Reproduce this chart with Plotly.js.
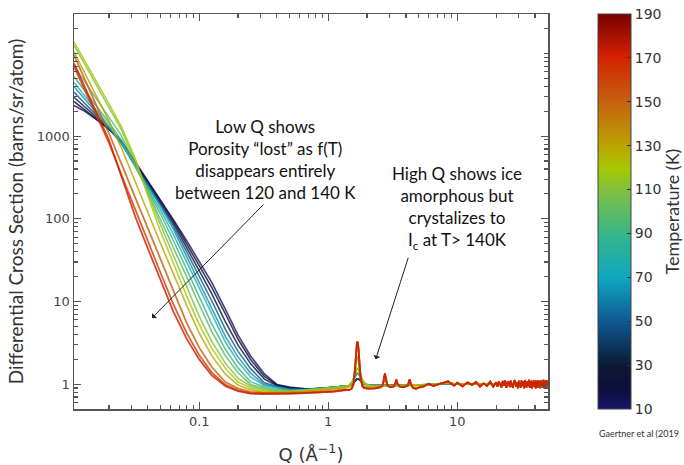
<!DOCTYPE html>
<html>
<head>
<meta charset="utf-8">
<script src="https://cdn.plot.ly/plotly-3.0.1.min.js"></script>
<style>html,body{margin:0;padding:0;background:#fff;}#chart{width:684px;height:465px;}</style>
</head>
<body>
<div id="chart"></div>
<script>
// ---------------- DATA ----------------
// Temperatures of the measured curves (K)
const temps = [10, 20, 30, 50, 65, 80, 90, 100, 110, 120, 130, 150, 160, 172];

// Low/mid-Q grid (Å^-1)
const qLo = [0.0107, 0.013, 0.016, 0.02, 0.025, 0.032, 0.04, 0.05, 0.063, 0.08, 0.1, 0.125, 0.16, 0.2, 0.25, 0.32, 0.4, 0.5, 0.65, 0.85, 1.1, 1.35];

// Cross section on qLo for each temperature (barns/sr/atom)
const sLo_T10  = [2344, 1995, 1585, 1202, 871, 490, 285, 168, 97.7, 54.3, 30.9, 17.0, 7.94, 3.92, 2.19, 1.33, 0.99, 0.923, 0.881, 0.871, 0.891, 0.923];
const sLo_T20  = [2630, 2065, 1600, 1216, 857, 478, 281, 165, 94.6, 49.5, 27.0, 14.8, 7.00, 3.49, 1.99, 1.24, 0.977, 0.912, 0.865, 0.881, 0.912, 0.955];
const sLo_T30  = [2951, 2244, 1679, 1227, 832, 460, 269, 157, 88.3, 44.6, 23.5, 12.4, 5.64, 2.96, 1.77, 1.15, 0.957, 0.891, 0.855, 0.881, 0.912, 0.955];
const sLo_T50  = [3388, 2477, 1778, 1242, 807, 443, 257, 149, 81.7, 39.5, 20.1, 10.2, 4.56, 2.49, 1.54, 1.04, 0.933, 0.877, 0.857, 0.881, 0.912, 0.955];
const sLo_T65  = [3981, 2793, 1919, 1268, 804, 434, 248, 142, 74.8, 34.6, 16.8, 8.05, 3.73, 2.12, 1.36, 0.988, 0.912, 0.853, 0.851, 0.877, 0.908, 0.951];
const sLo_T80  = [4467, 3062, 2047, 1330, 816, 424, 233, 129, 64.6, 29.8, 14.5, 6.82, 3.21, 1.86, 1.22, 0.964, 0.893, 0.841, 0.855, 0.881, 0.912, 0.955];
const sLo_T90  = [5248, 3516, 2296, 1452, 885, 429, 222, 115, 54.6, 24.5, 11.7, 5.37, 2.61, 1.56, 1.07, 0.923, 0.859, 0.832, 0.847, 0.875, 0.906, 0.948];
const sLo_T100 = [7079, 4519, 2812, 1687, 1009, 447, 212, 99.3, 45.6, 19.95, 9.18, 4.31, 2.19, 1.37, 0.991, 0.887, 0.832, 0.822, 0.841, 0.871, 0.902, 0.944];
const sLo_T110 = [12590, 7311, 4111, 2208, 1189, 485, 202, 85.1, 36.2, 14.9, 6.61, 3.28, 1.77, 1.17, 0.946, 0.855, 0.813, 0.818, 0.838, 0.867, 0.895, 0.938];
const sLo_T120 = [13800, 8128, 4634, 2450, 1290, 530, 189, 70.8, 29.2, 11.6, 5.25, 2.72, 1.54, 1.06, 0.906, 0.828, 0.804, 0.813, 0.832, 0.861, 0.891, 0.933];
const sLo_T130 = [10470, 5728, 3027, 1521, 714, 277, 117, 50.9, 21.7, 8.93, 4.14, 2.21, 1.31, 0.972, 0.857, 0.794, 0.794, 0.798, 0.813, 0.841, 0.871, 0.912];
const sLo_T150 = [9550, 4827, 2344, 1075, 459, 178, 75.4, 31.9, 13.2, 5.46, 2.76, 1.61, 1.05, 0.887, 0.807, 0.776, 0.776, 0.780, 0.794, 0.813, 0.832, 0.871];
const sLo_T160 = [6918, 3594, 1795, 824, 337, 126, 52.8, 22.4, 9.26, 4.13, 2.24, 1.39, 0.978, 0.841, 0.780, 0.767, 0.767, 0.767, 0.776, 0.794, 0.813, 0.851];
const sLo_T172 = [7586, 3917, 1950, 891, 323, 105, 43.6, 18.2, 7.54, 3.52, 1.99, 1.28, 0.944, 0.820, 0.767, 0.759, 0.759, 0.767, 0.776, 0.794, 0.813, 0.851];

// High-Q part, amorphous ice (broad peak near 1.7 Å^-1)
const qHiA = [1.45, 1.55, 1.62, 1.67, 1.72, 1.8, 1.9, 2.05, 2.3, 2.6, 3.0, 3.5, 4.0, 4.6, 5.3, 6.2, 7.2, 8.3, 10, 13, 17, 22, 30, 40, 50];
const sHiA_cold = [0.95, 1.02, 1.10, 1.15, 1.15, 1.08, 1.01, 0.97, 0.96, 0.96, 0.96, 0.96, 0.97, 0.97, 0.98, 0.99, 1.0, 1.02, 1.0, 1.0, 1.0, 1.0, 1.0, 1.0, 1.0];
const sHiA_mid  = [0.96, 1.08, 1.25, 1.35, 1.32, 1.15, 1.03, 0.97, 0.95, 0.95, 0.95, 0.96, 0.97, 0.97, 0.98, 0.99, 1.0, 1.02, 1.0, 1.0, 1.0, 1.0, 1.0, 1.0, 1.0];
const sHiA_warm = [0.95, 1.10, 1.40, 1.55, 1.48, 1.20, 1.03, 0.96, 0.94, 0.94, 0.95, 0.96, 0.96, 0.97, 0.98, 0.99, 1.0, 1.03, 1.0, 1.0, 1.0, 1.0, 1.0, 1.0, 1.0];

// High-Q part, partly crystallised (130 K)
const qHiP = [1.45, 1.52, 1.58, 1.62, 1.65, 1.68, 1.71, 1.74, 1.78, 1.83, 1.9, 2.05, 2.3, 2.55, 2.68, 2.74, 2.8, 2.9, 3.1, 3.3, 3.37, 3.45, 3.7, 4.1, 4.27, 4.4, 4.7, 5.3, 6.2, 7.2, 8.3, 10, 13, 17, 22, 30, 40, 50];
const sHiP = [0.92, 0.97, 1.15, 1.55, 2.0, 2.2, 1.95, 1.45, 1.12, 1.0, 0.94, 0.92, 0.93, 0.95, 1.02, 1.12, 1.04, 0.97, 0.95, 0.98, 1.06, 0.98, 0.95, 0.97, 1.06, 0.98, 0.95, 0.97, 0.99, 1.0, 1.04, 1.0, 1.0, 1.0, 1.0, 1.0, 1.0, 1.0];

// High-Q part, cubic ice Ic (sharp Bragg peaks, noisy tail)
const qHiC = [1.45, 1.52, 1.57, 1.61, 1.64, 1.67, 1.69, 1.72, 1.75, 1.79, 1.84, 1.9, 2.05, 2.3, 2.55, 2.65, 2.71, 2.75, 2.79, 2.87, 3.0, 3.2, 3.31, 3.37, 3.43, 3.6, 3.9, 4.15, 4.24, 4.29, 4.36, 4.55, 4.8, 5.0,
  5.5, 6.0, 6.5, 7.0, 7.5, 8.0, 8.5, 9.0, 9.5, 10,
  11, 12, 13, 14, 15, 16, 17, 18, 19, 20,
  20.5, 21, 21.5, 22, 22.5, 23, 23.5, 24, 24.5, 25,
  25.5, 26, 26.5, 27, 27.5, 28, 28.5, 29, 29.5, 30,
  30.5, 31, 31.5, 32, 32.5, 33, 33.5, 34, 34.5, 35,
  35.5, 36, 36.5, 37, 37.5, 38, 38.5, 39, 39.5, 40,
  40.5, 41, 41.5, 42, 42.5, 43, 43.5, 44, 44.5, 45,
  45.5, 46, 46.5, 47, 47.5, 48, 48.5, 49, 49.5, 50];
const sHiC = [0.85, 0.88, 1.0, 1.5, 2.4, 3.2, 3.25, 2.6, 1.7, 1.15, 0.95, 0.9, 0.88, 0.89, 0.92, 0.98, 1.2, 1.35, 1.2, 0.97, 0.92, 0.93, 1.02, 1.14, 1.02, 0.93, 0.92, 0.97, 1.1, 1.14, 1.0, 0.9, 0.88, 0.91,
  0.94, 1.01, 0.95, 0.99, 1.02, 1.05, 1.08, 1.0, 0.96, 1.04,
  0.94, 1.05, 0.98, 1.06, 0.93, 1.02, 0.95, 1.07, 0.93, 1.05,
  0.93, 1.08, 1.01, 0.91, 1.09, 0.96, 1.11, 0.90, 1.04, 1.08,
  0.92, 1.10, 0.97, 0.90, 1.07, 1.12, 0.93, 1.05, 0.89, 1.10,
  1.00, 0.90, 1.11, 0.95, 1.08, 0.89, 1.12, 0.99, 0.91, 1.09,
  0.94, 1.13, 0.90, 1.03, 1.10, 0.89, 1.07, 0.93, 1.12, 0.97,
  0.89, 1.10, 1.02, 0.90, 1.12, 0.94, 1.08, 0.89, 1.11, 0.96,
  1.09, 0.90, 1.13, 0.95, 0.89, 1.10, 1.02, 0.90, 1.12, 0.94];

const lowSeries  = [sLo_T10, sLo_T20, sLo_T30, sLo_T50, sLo_T65, sLo_T80, sLo_T90, sLo_T100, sLo_T110, sLo_T120, sLo_T130, sLo_T150, sLo_T160, sLo_T172];
const highQ      = [qHiA, qHiA, qHiA, qHiA, qHiA, qHiA, qHiA, qHiA, qHiA, qHiA, qHiP, qHiC, qHiC, qHiC];
const highSeries = [sHiA_cold, sHiA_cold, sHiA_cold, sHiA_cold, sHiA_mid, sHiA_mid, sHiA_mid, sHiA_warm, sHiA_warm, sHiA_warm, sHiP, sHiC, sHiC, sHiC];

// Colour bar
const tMin = 10, tMax = 190;
const cbTicks = [10, 30, 50, 70, 90, 110, 130, 150, 170, 190];

// ---------------- STYLE ----------------
const cscale = [
  [0.00, '#17176c'], [0.05, '#0d0d3c'], [0.11, '#0a1a32'], [0.22, '#0f5791'],
  [0.33, '#0ea6c2'], [0.44, '#36b58a'], [0.55, '#7dc043'], [0.61, '#a9c800'],
  [0.67, '#bba200'], [0.78, '#c5600f'], [0.89, '#d42200'], [1.00, '#7a0000']
];
function hex2rgb(h){return [parseInt(h.slice(1,3),16),parseInt(h.slice(3,5),16),parseInt(h.slice(5,7),16)];}
function colorFor(t){
  const f = (t - tMin) / (tMax - tMin);
  for (let i = 0; i < cscale.length - 1; i++) {
    const a = cscale[i], b = cscale[i+1];
    if (f >= a[0] && f <= b[0]) {
      const u = (f - a[0]) / (b[0] - a[0]);
      const ca = hex2rgb(a[1]), cb = hex2rgb(b[1]);
      const c = ca.map((v, k) => Math.round(v + (cb[k] - v) * u));
      return 'rgb(' + c.join(',') + ')';
    }
  }
  return cscale[cscale.length-1][1];
}

const traces = temps.map((T, i) => ({
  type: 'scatter', mode: 'lines',
  x: qLo.concat(highQ[i]),
  y: lowSeries[i].concat(highSeries[i]),
  line: {color: colorFor(T), width: T >= 150 ? 1.8 : 1.6},
  opacity: 0.82,
  hoverinfo: 'skip', showlegend: false
}));

traces.push({
  type: 'scatter', mode: 'markers', x: [1, 1], y: [1, 1],
  marker: {
    size: 1, opacity: 0, color: [tMin, tMax], cmin: tMin, cmax: tMax,
    colorscale: cscale, showscale: true,
    colorbar: {
      x: 1.1055, xanchor: 'left', y: 0.5, yanchor: 'middle',
      len: 395, lenmode: 'pixels', thickness: 33, thicknessmode: 'pixels',
      xpad: 0, ypad: 0, outlinewidth: 1, outlinecolor: '#444',
      tickmode: 'array', tickvals: cbTicks, ticks: 'inside', ticklen: 4, tickcolor: '#333',
      tickfont: {family: 'DejaVu Sans', size: 14, color: '#333'}
    }
  },
  hoverinfo: 'skip', showlegend: false
});

const xMinor = [], yMinor = [];
[0.01, 0.1, 1, 10].forEach(d => { for (let k = 2; k <= 9; k++) xMinor.push(k * d); });
[0.1, 1, 10, 100, 1000, 10000].forEach(d => { for (let k = 2; k <= 9; k++) yMinor.push(k * d); });
yMinor.push(10000);

const axisCommon = {
  type: 'log', showgrid: false, zeroline: false,
  showline: true, linecolor: '#555', linewidth: 1.5, mirror: 'allticks',
  ticks: 'inside', ticklen: 7, tickwidth: 1.2, tickcolor: '#555',
  tickfont: {family: 'DejaVu Sans', size: 13, color: '#444'},
};

const layout = {
  width: 684, height: 465,
  margin: {l: 74, r: 136, t: 14, b: 56, autoexpand: false},
  paper_bgcolor: '#fff', plot_bgcolor: '#fff',
  showlegend: false,
  xaxis: Object.assign({}, axisCommon, {
    range: [Math.log10(0.0107), Math.log10(50.5)],
    tickmode: 'array', tickvals: [0.1, 1, 10], ticktext: ['0.1', '1', '10'],
    minor: {tickmode: 'array', tickvals: xMinor, ticks: 'inside', ticklen: 4, tickcolor: '#555', showgrid: false},
    title: {text: 'Q (Å<sup>−1</sup>)', font: {family: 'DejaVu Sans', size: 18, color: '#333'}, standoff: 22}
  }),
  yaxis: Object.assign({}, axisCommon, {
    range: [Math.log10(0.5), Math.log10(30000)],
    tickmode: 'array', tickvals: [1, 10, 100, 1000], ticktext: ['1', '10', '100', '1000'],
    minor: {tickmode: 'array', tickvals: yMinor, ticks: 'inside', ticklen: 4, tickcolor: '#555', showgrid: false},
    title: {text: 'Differential Cross Section (barns/sr/atom)', font: {family: 'Lato', size: 19, color: '#333'}, standoff: 8}
  }),
  annotations: [
    {xref: 'paper', yref: 'paper', x: 0.4046, y: 0.631, xanchor: 'center', yanchor: 'middle', showarrow: false,
     text: 'Low Q shows<br>Porosity “lost” as f(T)<br>disappears entirely<br>between 120 and 140 K',
     font: {family: 'Lato', size: 17, color: '#111'}, align: 'center'},
    {xref: 'paper', yref: 'paper', x: 0.809, y: 0.508, xanchor: 'center', yanchor: 'middle', showarrow: false,
     text: 'High Q shows ice<br>amorphous but<br>crystalizes to<br>I<sub>c</sub> at T> 140K',
     font: {family: 'Lato', size: 17, color: '#111'}, align: 'center'},
    {xref: 'paper', yref: 'paper', x: 0.1646, y: 0.2304, ax: 113, ay: -115, axref: 'pixel', ayref: 'pixel',
     showarrow: true, arrowhead: 1, arrowsize: 1.2, arrowwidth: 1, arrowcolor: '#222', text: ''},
    {xref: 'paper', yref: 'paper', x: 0.6365, y: 0.1258, ax: 33, ay: -103, axref: 'pixel', ayref: 'pixel',
     showarrow: true, arrowhead: 1, arrowsize: 1.2, arrowwidth: 1, arrowcolor: '#222', text: ''},
    {xref: 'paper', yref: 'paper', x: 1.2595, y: 0.5, xanchor: 'center', yanchor: 'middle', showarrow: false,
     textangle: -90, borderpad: 0, text: 'Temperature (K)', font: {family: 'Lato', size: 18, color: '#333'}},
    {xref: 'paper', yref: 'paper', x: 1.1034, y: -0.0608, xanchor: 'left', yanchor: 'middle', showarrow: false,
     text: 'Gaertner et al (2019', font: {family: 'Lato', size: 9, color: '#333'}}
  ]
};

Plotly.newPlot('chart', traces, layout, {displayModeBar: false, staticPlot: true});
</script>
</body>
</html>
